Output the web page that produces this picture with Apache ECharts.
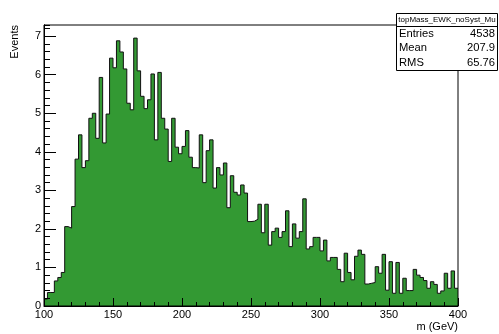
<!DOCTYPE html>
<html>
<head>
<meta charset="utf-8">
<script src="https://cdn.jsdelivr.net/npm/echarts@6/dist/echarts.min.js"></script>
<style>
  html, body { margin: 0; padding: 0; background: #fff; }
  #chart { width: 499px; height: 334px; }
</style>
</head>
<body>
<div id="chart"></div>
<script>
// Histogram binning: 120 bins of 2.5 GeV from 100 to 400 GeV
const xMin = 100;
const xMax = 400;
const binWidth = 2.5;

// Weighted bin contents (events per bin)
const binContents = [
  0.18, 0.35, 0.35, 0.65, 0.74, 0.87, 2.06, 2.02, 2.58, 3.81,
  4.44, 3.59, 3.77, 4.87, 5.00, 4.35, 5.93, 4.23, 4.98, 6.43,
  6.18, 6.88, 6.59, 6.15, 5.26, 5.09, 6.95, 6.10, 5.44, 5.12,
  5.35, 6.02, 4.31, 6.06, 4.87, 4.59, 3.75, 4.87, 4.12, 3.95,
  4.14, 4.55, 3.86, 3.59, 3.58, 4.44, 3.20, 4.03, 4.31, 3.06,
  3.59, 3.40, 3.71, 2.55, 3.38, 2.95, 2.88, 3.14, 2.93, 2.19,
  2.20, 2.25, 2.64, 1.90, 2.64, 1.58, 1.93, 2.02, 1.78, 1.93,
  2.47, 1.54, 2.13, 1.76, 1.93, 2.78, 1.48, 1.54, 1.78, 1.78,
  1.43, 1.71, 1.17, 1.26, 1.26, 0.95, 0.63, 1.37, 0.87, 0.68,
  1.29, 1.45, 1.34, 0.57, 0.59, 0.61, 1.02, 0.85, 1.34, 0.41,
  1.15, 0.33, 1.13, 0.33, 0.72, 0.40, 0.40, 0.95, 0.80, 0.74,
  0.66, 0.46, 0.63, 0.56, 0.33, 0.39, 0.85, 0.46, 0.91, 0.46
];

// Statistics box
const histName = 'topMass_EWK_noSyst_Mu';
const statLabels = ['Entries', 'Mean', 'RMS'];
const statValues = ['4538', '207.9', '65.76'];

// Axis titles
const xTitle = 'm (GeV)';
const yTitle = 'Events';

const yMax = 7.29;

// Step outline: one point per bin low edge, plus the upper edge of the last bin
const stepData = binContents.map((v, i) => [xMin + i * binWidth, v]);
stepData.push([xMax, binContents[binContents.length - 1]]);

const FONT = 'Liberation Sans, Arial, Helvetica, sans-serif';
const chart = echarts.init(document.getElementById('chart'), null, { renderer: 'canvas' });

const axisLine = { show: true, onZero: false, lineStyle: { color: '#000', width: 1 } };

chart.setOption({
  animation: false,
  backgroundColor: '#fff',
  grid: {
    left: 44, right: 41, top: 25, bottom: 28,
    show: true, borderColor: '#000', borderWidth: 1,
    backgroundColor: 'transparent', z: 3
  },
  xAxis: {
    type: 'value', min: xMin, max: xMax, interval: 50, z: 3,
    axisLine: axisLine,
    axisTick: { show: true, inside: true, length: 8, lineStyle: { color: '#000' } },
    minorTick: { show: true, splitNumber: 5, length: 4, lineStyle: { color: '#000' } },
    axisLabel: { color: '#000', fontFamily: FONT, fontSize: 11, margin: 3 },
    splitLine: { show: false }
  },
  yAxis: [
    {
      // fine ticks every 0.2
      type: 'value', min: 0, max: yMax, interval: 0.2, position: 'left', z: 3,
      axisLine: axisLine,
      axisTick: { show: true, inside: true, length: 6, lineStyle: { color: '#000' } },
      axisLabel: { show: false },
      splitLine: { show: false }
    },
    {
      // labelled ticks every 1
      type: 'value', min: 0, max: yMax, interval: 1, position: 'left', offset: 0, z: 3,
      axisLine: axisLine,
      axisTick: { show: true, inside: true, length: 12, lineStyle: { color: '#000' } },
      axisLabel: { color: '#000', fontFamily: FONT, fontSize: 11, margin: 3, showMaxLabel: false },
      splitLine: { show: false }
    }
  ],
  series: [{
    type: 'line',
    yAxisIndex: 0,
    data: stepData,
    step: 'end',
    showSymbol: false,
    symbol: 'none',
    lineStyle: { color: '#111', width: 1 },
    areaStyle: { color: '#339933', opacity: 1 },
    z: 2
  }],
  graphic: [
    {
      type: 'text', x: 15, y: 25, rotation: Math.PI / 2, z: 10,
      style: { text: yTitle, fill: '#000', font: '11px ' + FONT, align: 'right', verticalAlign: 'middle' }
    },
    {
      type: 'text', x: 458, y: 327, z: 10,
      style: { text: xTitle, fill: '#000', font: '11px ' + FONT, align: 'right', verticalAlign: 'middle' }
    },
    {
      type: 'rect', z: 20,
      shape: { x: 396.5, y: 13.5, width: 101, height: 57 },
      style: { fill: '#fff', stroke: '#000', lineWidth: 1 }
    },
    {
      type: 'line', z: 21,
      shape: { x1: 396.5, y1: 26.5, x2: 497.5, y2: 26.5 },
      style: { stroke: '#000', lineWidth: 1 }
    },
    {
      type: 'text', x: 447, y: 20, z: 21,
      style: { text: histName, fill: '#000', font: '8px ' + FONT, align: 'center', verticalAlign: 'middle' }
    }
  ].concat(statLabels.map((lab, i) => ({
    type: 'text', x: 399, y: 34 + i * 14.3, z: 21,
    style: { text: lab, fill: '#000', font: '11.2px ' + FONT, align: 'left', verticalAlign: 'middle' }
  }))).concat(statValues.map((val, i) => ({
    type: 'text', x: 495, y: 34 + i * 14.3, z: 21,
    style: { text: val, fill: '#000', font: '11.2px ' + FONT, align: 'right', verticalAlign: 'middle' }
  })))
});
</script>
</body>
</html>
